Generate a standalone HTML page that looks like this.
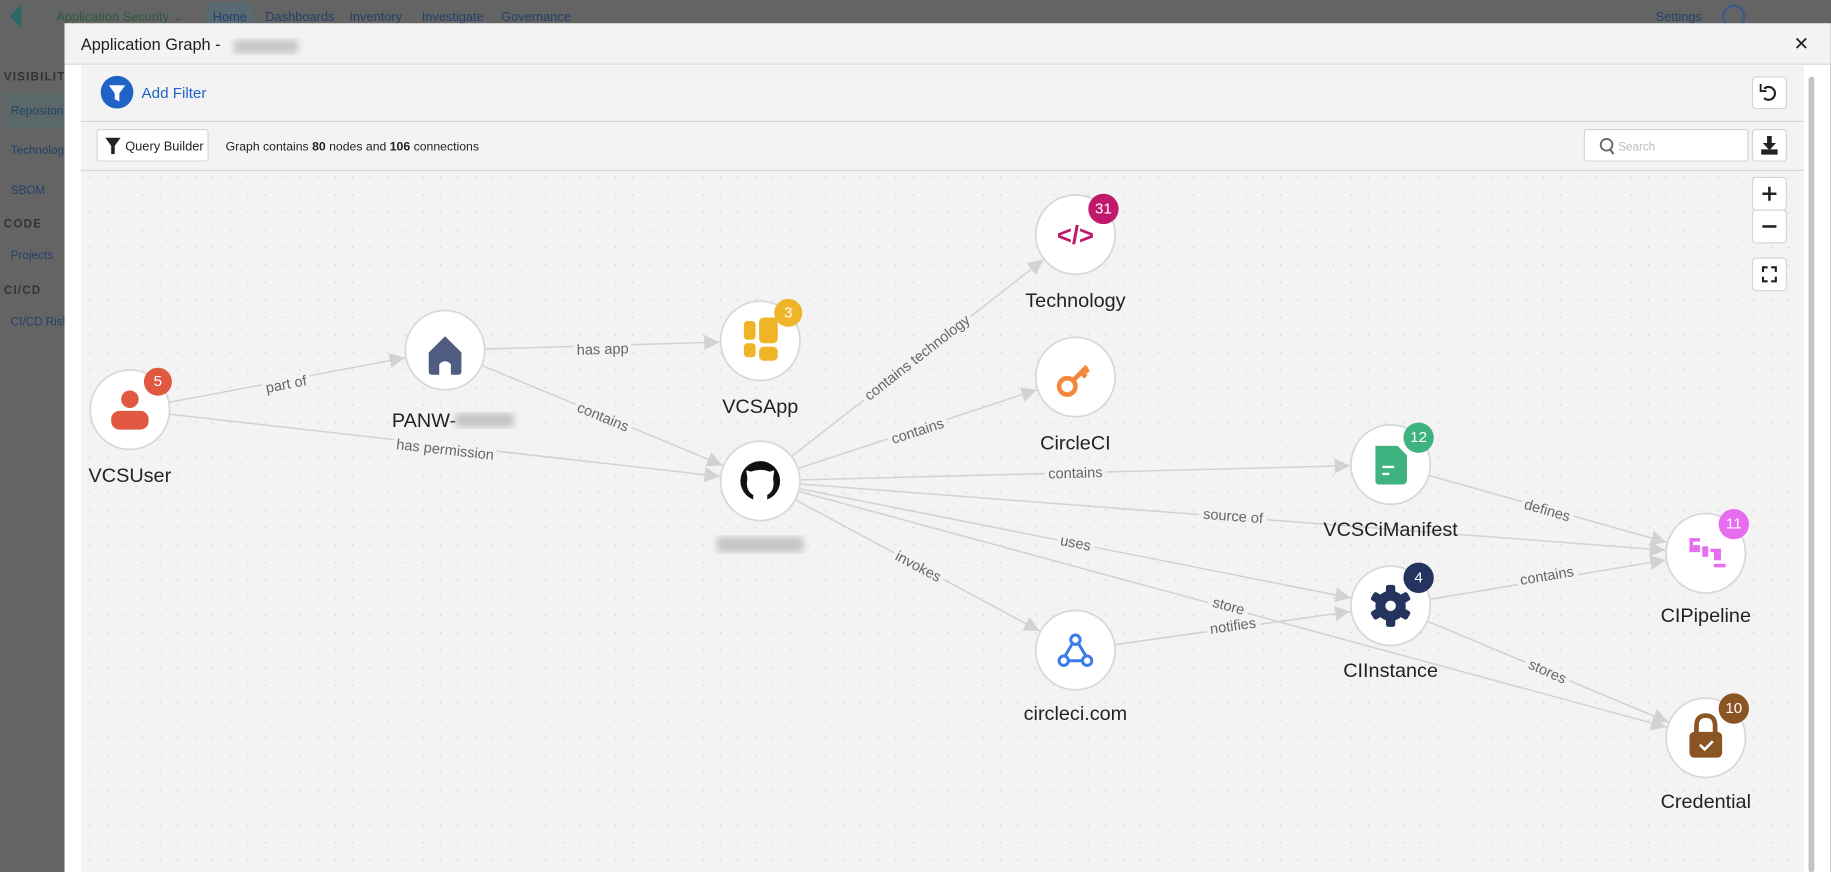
<!DOCTYPE html>
<html><head><meta charset="utf-8"><style>
html,body{margin:0;padding:0;width:1831px;height:872px;overflow:hidden;background:#646464}
svg{display:block}
text{font-family:"Liberation Sans",sans-serif}
.el{font-size:12.5px;fill:#666;stroke:#f2f3f2;stroke-width:7px;paint-order:stroke;text-anchor:middle;dominant-baseline:middle}
.nl{font-size:17px;fill:#222;text-anchor:middle}
.bd{font-size:13px;fill:#fff;text-anchor:middle;dominant-baseline:central}
</style></head><body>
<svg width="1831" height="872" viewBox="0 0 1568 747" xmlns="http://www.w3.org/2000/svg">
<defs>
<pattern id="dots" width="15" height="15" patternUnits="userSpaceOnUse"><circle cx="2" cy="2" r="0.7" fill="#d4d6d4"/></pattern>
<marker id="ar" markerUnits="userSpaceOnUse" markerWidth="60" markerHeight="30" refX="60" refY="15" orient="auto"><path d="M25,15 L12,8.5 L12,21.5 z" fill="#d2d2d2"/></marker>
<filter id="bl"><feGaussianBlur stdDeviation="3"/></filter>
</defs>
<rect width="1568" height="747" fill="#646464"/>
<text x="48" y="18" font-size="11" fill="#2f5a3f">Application Security ⌄</text>
<rect x="176" y="2" width="40" height="22" fill="#5a6a72"/>
<text x="182" y="18" font-size="11" fill="#24406b">Home</text>
<text x="227" y="18" font-size="11" fill="#24406b">Dashboards</text>
<text x="299" y="18" font-size="11" fill="#24406b">Inventory</text>
<text x="361" y="18" font-size="11" fill="#24406b">Investigate</text>
<text x="429" y="18" font-size="11" fill="#24406b">Governance</text>
<text x="1418" y="18" font-size="11" fill="#24406b">Settings</text>
<circle cx="1485" cy="14" r="9" fill="none" stroke="#3a5a8a" stroke-width="2"/>
<path d="M8 14 L18 4 L18 24 Z" fill="#2a6a6a"/>
<text x="3" y="69" font-size="10" font-weight="bold" fill="#333" letter-spacing="1">VISIBILIT</text>
<rect x="3" y="80" width="60" height="30" rx="3" fill="#5a6868"/>
<text x="9" y="98" font-size="10" fill="#24406b">Repositori</text>
<text x="9" y="132" font-size="10" fill="#24406b">Technolog</text>
<text x="9" y="166" font-size="10" fill="#24406b">SBOM</text>
<text x="3" y="195" font-size="10" font-weight="bold" fill="#333" letter-spacing="1">CODE</text>
<text x="9" y="222" font-size="10" fill="#24406b">Projects</text>
<text x="3" y="252" font-size="10" font-weight="bold" fill="#333" letter-spacing="1">CI/CD</text>
<text x="9" y="279" font-size="10" fill="#24406b">CI/CD Risk</text>
<rect x="55" y="20" width="1513" height="727" fill="#ffffff"/>
<rect x="55" y="20" width="1513" height="35" fill="#f2f3f2"/>
<line x1="55" y1="55" x2="1568" y2="55" stroke="#d6d6d6"/>
<text x="69" y="43" font-size="14" fill="#222">Application Graph -</text>
<rect x="200" y="34" width="55" height="12" fill="#c8c8c8" filter="url(#bl)"/>
<text x="1543" y="43" font-size="16" fill="#222" text-anchor="middle">✕</text>
<rect x="69" y="56" width="1476" height="691" fill="#f2f3f2"/>
<rect x="1549" y="66" width="5" height="681" rx="2" fill="#c4c4c4"/>
<circle cx="100" cy="79" r="14" fill="#1f63c6"/>
<path d="M93 73 L107 73 L102 80 L102 87 L98 85 L98 80 Z" fill="#fff"/>
<text x="121" y="84" font-size="13" fill="#1f63c6">Add Filter</text>
<rect x="1501" y="66" width="29" height="27" rx="3" fill="#fff" stroke="#d4d4d4"/>
<path d="M1511 76 A5.5 5.5 0 1 1 1511 84" fill="none" stroke="#222" stroke-width="1.8"/><path d="M1508 72 L1508 78 L1513 78" fill="none" stroke="#222" stroke-width="1.6"/>
<line x1="69" y1="104" x2="1545" y2="104" stroke="#d6d6d6"/>
<rect x="83" y="111" width="95" height="27" rx="2" fill="#fff" stroke="#d4d4d4"/>
<path d="M90 118 L103 118 L98 125 L98 132 L95 132 L95 125 Z" fill="#222"/>
<text x="107" y="129" font-size="11" fill="#222">Query Builder</text>
<text x="193" y="129" font-size="10.5" fill="#222">Graph contains <tspan font-weight="bold">80</tspan> nodes and <tspan font-weight="bold">106</tspan> connections</text>
<rect x="1357" y="111" width="140" height="27" rx="2" fill="#fff" stroke="#d4d4d4"/>
<circle cx="1376" cy="124" r="5" fill="none" stroke="#666" stroke-width="1.6"/><line x1="1379" y1="128" x2="1382" y2="132" stroke="#666" stroke-width="1.8"/>
<text x="1386" y="129" font-size="10" fill="#bbb">Search</text>
<rect x="1501" y="111" width="29" height="27" rx="3" fill="#fff" stroke="#d4d4d4"/>
<path d="M1514 117 L1517 117 L1517 123 L1520 123 L1515.5 128 L1511 123 L1514 123 Z M1509 128 L1509 132 L1522 132 L1522 128" fill="#222" stroke="#222" stroke-width="1"/>
<line x1="69" y1="146" x2="1545" y2="146" stroke="#d6d6d6"/>
<rect x="69" y="147" width="1476" height="600" fill="url(#dots)"/>
<rect x="1501" y="152" width="29" height="28" rx="3" fill="#fff" stroke="#d4d4d4"/>
<rect x="1501" y="180" width="29" height="28" rx="3" fill="#fff" stroke="#d4d4d4"/>
<path d="M1515.5 160 V172 M1509.5 166 H1521.5" stroke="#222" stroke-width="2.2"/>
<path d="M1509.5 194 H1521.5" stroke="#222" stroke-width="2.2"/>
<rect x="1501" y="221" width="29" height="28" rx="3" fill="#fff" stroke="#d4d4d4"/>
<path d="M1510 233 V229 H1514 M1517 229 H1521 V233 M1521 237 V241 H1517 M1514 241 H1510 V237" fill="none" stroke="#222" stroke-width="1.8"/>
<g stroke="#d2d2d2" stroke-width="1.3" fill="none" marker-end="url(#ar)">
<line x1="111" y1="351" x2="381" y2="300"/>
<line x1="111" y1="351" x2="651" y2="412"/>
<line x1="381" y1="300" x2="651" y2="292"/>
<line x1="381" y1="300" x2="651" y2="412"/>
<line x1="651" y1="412" x2="921" y2="201"/>
<line x1="651" y1="412" x2="921" y2="323"/>
<line x1="651" y1="412" x2="1191" y2="398"/>
<line x1="651" y1="412" x2="1461" y2="474"/>
<line x1="651" y1="412" x2="1191" y2="519"/>
<line x1="651" y1="412" x2="1461" y2="632"/>
<line x1="651" y1="412" x2="921" y2="557"/>
<line x1="921" y1="557" x2="1191" y2="519"/>
<line x1="1191" y1="398" x2="1461" y2="474"/>
<line x1="1191" y1="519" x2="1461" y2="474"/>
<line x1="1191" y1="519" x2="1461" y2="632"/>
</g>
<text class="el" transform="translate(245,330) rotate(-11)">part of</text>
<text class="el" transform="translate(381,386) rotate(6.4)">has permission</text>
<text class="el" transform="translate(516,300) rotate(-1.7)">has app</text>
<text class="el" transform="translate(516,358) rotate(22.5)">contains</text>
<text class="el" transform="translate(786,307) rotate(-38)">contains technology</text>
<text class="el" transform="translate(786,370) rotate(-18)">contains</text>
<text class="el" transform="translate(921,406) rotate(-1.5)">contains</text>
<text class="el" transform="translate(1056,443) rotate(4.4)">source of</text>
<text class="el" transform="translate(921,466) rotate(11)">uses</text>
<text class="el" transform="translate(1052,520) rotate(15)">store</text>
<text class="el" transform="translate(786,486) rotate(28)">invokes</text>
<text class="el" transform="translate(1056,537) rotate(-8)">notifies</text>
<text class="el" transform="translate(1325,438) rotate(16)">defines</text>
<text class="el" transform="translate(1325,494) rotate(-9.5)">contains</text>
<text class="el" transform="translate(1325,576) rotate(24)">stores</text>
<g fill="#fff" stroke="#d8d8d8" stroke-width="1.5">
<circle cx="111" cy="351" r="34"/><circle cx="381" cy="300" r="34"/><circle cx="651" cy="292" r="34"/>
<circle cx="651" cy="412" r="34"/><circle cx="921" cy="201" r="34"/><circle cx="921" cy="323" r="34"/>
<circle cx="1191" cy="398" r="34"/><circle cx="1461" cy="474" r="34"/><circle cx="1191" cy="519" r="34"/>
<circle cx="921" cy="557" r="34"/><circle cx="1461" cy="632" r="34"/>
</g>
<circle cx="111" cy="342" r="7.5" fill="#e0583f"/><rect x="95" y="352" width="32" height="16" rx="7" fill="#e0583f"/>
<path d="M367 302 L381 288 L395 302 L395 318 Q395 321 392 321 L386 321 L386 312 Q381 307 376 312 L376 321 L370 321 Q367 321 367 318 Z" fill="#4f5d80"/>
<g fill="#f0b429"><rect x="637" y="275" width="10" height="16" rx="3"/><rect x="650" y="272" width="16" height="22" rx="4"/><rect x="637" y="294" width="10" height="12" rx="3"/><rect x="650" y="297" width="16" height="12" rx="4"/></g>
<circle cx="651" cy="412" r="17" fill="#111"/>
<path d="M645 424 L645 431 L657 431 L657 424 Q664 420 662 410 L663 403 L659 404 Q651 401 643 404 L639 403 L640 410 Q638 420 645 424 Z" fill="#fff"/>
<text x="921" y="209" font-size="22" font-weight="bold" fill="#c0196b" text-anchor="middle">&lt;/&gt;</text>
<g stroke="#f5873d" stroke-width="4" fill="none"><circle cx="914" cy="331" r="7"/><path d="M919 326 L931 314 M926 319 L930 323 M929 316 L932 319"/></g>
<path d="M1178 382 H1197 L1205 390 V411 Q1205 415 1201 415 H1181 Q1178 415 1178 412 Z" fill="#3fb37f"/><path d="M1184 400 H1194 M1184 406 H1190" stroke="#fff" stroke-width="2"/><path d="M1197 380 L1207 390" stroke="#fff" stroke-width="2"/>
<g fill="#e86cf0"><rect x="1447" y="461" width="9" height="3"/><rect x="1447" y="464" width="3" height="9"/><rect x="1450" y="467" width="6" height="6"/><rect x="1458" y="468" width="5" height="9"/><rect x="1465" y="470" width="9" height="3"/><rect x="1468" y="473" width="6" height="7"/><rect x="1468" y="483" width="10" height="3"/></g>
<g transform="translate(1191,519)"><circle r="13" fill="#25345e"/><g fill="#25345e"><rect x="-4" y="-18" width="8" height="36" rx="2"/><rect x="-4" y="-18" width="8" height="36" rx="2" transform="rotate(60)"/><rect x="-4" y="-18" width="8" height="36" rx="2" transform="rotate(120)"/></g><circle r="4.5" fill="#fff"/></g>
<g fill="none" stroke="#3d7be8" stroke-width="2.6"><circle cx="921" cy="548" r="4"/><circle cx="911" cy="566" r="4"/><circle cx="931" cy="566" r="4"/><path d="M918 552 L912 562 M915 566 H927 M924 552 L930 562"/></g>
<path d="M1453 630 V622 Q1453 613 1461 613 Q1469 613 1469 622 V630" fill="none" stroke="#8b5423" stroke-width="4"/>
<rect x="1447" y="627" width="28" height="22" rx="4" fill="#8b5423"/><path d="M1456 638 L1460 642 L1467 635" fill="none" stroke="#fff" stroke-width="2.2"/>
<circle cx="135" cy="327" r="12" fill="#e0583f"/><text class="bd" x="135" y="327">5</text>
<circle cx="675" cy="268" r="12" fill="#f0b429"/><text class="bd" x="675" y="268">3</text>
<circle cx="945" cy="179" r="13" fill="#c0196b"/><text class="bd" x="945" y="179">31</text>
<circle cx="1215" cy="375" r="13" fill="#3fb37f"/><text class="bd" x="1215" y="375">12</text>
<circle cx="1485" cy="449" r="13" fill="#e86cf0"/><text class="bd" x="1485" y="449">11</text>
<circle cx="1215" cy="495" r="13" fill="#25345e"/><text class="bd" x="1215" y="495">4</text>
<circle cx="1485" cy="607" r="13" fill="#8b5423"/><text class="bd" x="1485" y="607">10</text>
<text class="nl" x="111" y="413">VCSUser</text>
<text class="nl" x="363" y="366">PANW-</text><rect x="390" y="354" width="50" height="12" fill="#c4c4c4" filter="url(#bl)"/>
<text class="nl" x="651" y="354">VCSApp</text>
<rect x="614" y="460" width="74" height="13" fill="#c4c4c4" filter="url(#bl)"/>
<text class="nl" x="921" y="263">Technology</text>
<text class="nl" x="921" y="385">CircleCI</text>
<text class="nl" x="1191" y="459">VCSCiManifest</text>
<text class="nl" x="1461" y="533">CIPipeline</text>
<text class="nl" x="1191" y="580">CIInstance</text>
<text class="nl" x="921" y="617">circleci.com</text>
<text class="nl" x="1461" y="692">Credential</text>
</svg>
</body></html>
